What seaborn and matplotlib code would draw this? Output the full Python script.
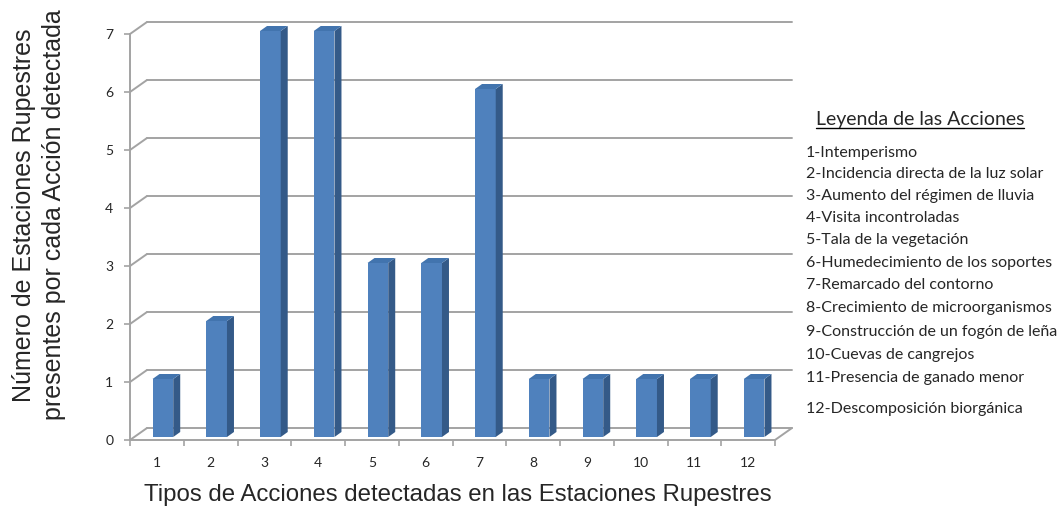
import numpy as np
import pandas as pd
import seaborn as sns
import matplotlib.pyplot as plt
from matplotlib.patches import Polygon
from matplotlib.lines import Line2D
from matplotlib.transforms import offset_copy

# datos
tipos = [str(i) for i in range(1, 13)]
estaciones = [1, 2, 7, 7, 3, 3, 6, 1, 1, 1, 1, 1]
acciones = [
    "1-Intemperismo",
    "2-Incidencia directa de la luz solar",
    "3-Aumento del régimen de lluvia",
    "4-Visita incontroladas",
    "5-Tala de la vegetación",
    "6-Humedecimiento de los soportes",
    "7-Remarcado del contorno",
    "8-Crecimiento de microorganismos",
    "9-Construcción de un fogón de leña",
    "10-Cuevas de cangrejos",
    "11-Presencia de ganado menor",
    "12-Descomposición biorgánica",
]

df = pd.DataFrame({"tipo": tipos, "n": estaciones})

sns.set_style("white")
plt.rcParams["font.family"] = ["Liberation Sans", "DejaVu Sans"]

W, H = 1059, 512
fig = plt.figure(figsize=(W / 100, H / 100), dpi=100)
ax = fig.add_axes([130 / W, 1 - 440 / H, 645 / W, 406 / H])
ax.patch.set_alpha(0)

sns.barplot(data=df, x="tipo", y="n", color="#4F81BD", width=0.385,
            saturation=1, linewidth=0, ax=ax, zorder=3)
ax.set_xlim(-0.5, 11.5)
ax.set_ylim(0, 7)

grid = "#A3A3A3"
px_x = 645 / 12
px_y = 406 / 7

# pared del fondo (efecto 3D)
back = offset_copy(ax.transData, fig=fig, x=17, y=12, units="dots")
for v in range(8):
    ax.plot([-0.5, 11.5], [v, v], transform=back, color=grid, lw=1.4,
            clip_on=False, zorder=1)
    ax.plot([-0.5, -0.5 + 17 / px_x], [v, v + 12 / px_y], color=grid,
            lw=1.4, clip_on=False, zorder=1)
ax.plot([11.5, 11.5 + 17 / px_x], [0, 12 / px_y], color=grid, lw=1.4,
        clip_on=False, zorder=1)

# barras con profundidad
front = offset_copy(ax.transData, fig=fig, x=6, y=3, units="dots")
ddx, ddy = 7 / px_x, 5 / px_y
for p in list(ax.patches):
    x0, w, h = p.get_x(), p.get_width(), p.get_height()
    p.set_transform(front)
    p.set_clip_on(False)
    p.set_edgecolor("none")
    side = Polygon([(x0 + w, 0), (x0 + w + ddx, ddy), (x0 + w + ddx, h + ddy), (x0 + w, h)],
                   closed=True, transform=front, facecolor="#345A88",
                   edgecolor="none", zorder=3, clip_on=False)
    top = Polygon([(x0, h), (x0 + ddx, h + ddy), (x0 + w + ddx, h + ddy), (x0 + w, h)],
                  closed=True, transform=front, facecolor="#4274AE",
                  edgecolor="none", zorder=3, clip_on=False)
    ax.add_patch(side)
    ax.add_patch(top)

for s in ["top", "right"]:
    ax.spines[s].set_visible(False)
for s in ["left", "bottom"]:
    ax.spines[s].set_color(grid)
    ax.spines[s].set_linewidth(1.4)
    ax.spines[s].set_zorder(2)

tick_font = ["Lato", "DejaVu Sans"]
ax.set_yticks(range(8))
ax.set_yticklabels([str(v) for v in range(8)], family=tick_font, fontsize=10)
ax.tick_params(axis="y", left=True, length=4, width=1.2, color=grid, pad=8)
ax.set_xticks(range(12))
ax.set_xticklabels(tipos, family=tick_font, fontsize=10)
ax.set_xticks(np.arange(-0.5, 12, 1), minor=True)
ax.tick_params(axis="x", which="major", bottom=True, length=0, pad=12)
ax.tick_params(axis="x", which="minor", bottom=True, length=4, width=1.2, color=grid)
ax.set_xlabel("")
ax.set_ylabel("")

fig.text(39 / W, 1 - 215 / H,
         "Número de Estaciones Rupestres\npresentes por cada Acción detectada",
         rotation=90, ha="center", va="center", fontsize=18, linespacing=1.3)
fig.text(458 / W, 1 - 495 / H,
         "Tipos de Acciones detectadas en las Estaciones Rupestres",
         ha="center", va="center", fontsize=17.3)

# leyenda de texto
leg_y = [153, 174, 196, 218, 240, 263, 285, 308, 332, 355, 378, 409]
title = fig.text(920 / W, 1 - 120 / H, "Leyenda de las Acciones", ha="center",
                 va="center", fontsize=14, family=tick_font)
for lab, y in zip(acciones, leg_y):
    fig.text(806 / W, 1 - y / H, lab, ha="left", va="center", fontsize=11.5,
             family=tick_font)

fig.canvas.draw()
bb = title.get_window_extent().transformed(fig.transFigure.inverted())
fig.add_artist(Line2D([bb.x0, bb.x1], [bb.y0 + 1 / H, bb.y0 + 1 / H],
                      color="black", lw=1, transform=fig.transFigure))

fig.savefig("out.png", dpi=100)
